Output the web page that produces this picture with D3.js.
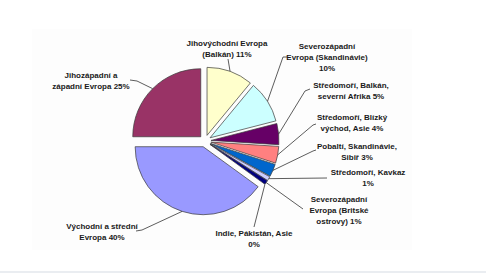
<!DOCTYPE html>
<html><head><meta charset="utf-8">
<script src="https://cdn.jsdelivr.net/npm/d3@7"></script>
<style>html,body{margin:0;padding:0;background:#fff;}svg{display:block;}</style>
</head><body>
<script>
// ---- data ----
const categories = [
  "Východní a střední Evropa",
  "Jihozápadní a západní Evropa",
  "Jihovýchodní Evropa (Balkán)",
  "Severozápadní Evropa (Skandinávie)",
  "Středomoří, Balkán, severní Afrika",
  "Středomoří, Blízký východ, Asie",
  "Pobaltí, Skandinávie, Sibiř",
  "Středomoří, Kavkaz",
  "Severozápadní Evropa (Britské ostrovy)",
  "Indie, Pákistán, Asie"
];
const values = [40, 25, 11, 10, 5, 4, 3, 1, 1, 0];
const colors = ["#9999FF","#993366","#FFFFCC","#CCFFFF","#660066","#FF8080","#0066CC","#CCCCFF","#000080","#FF00FF"];

// ---- layout (label wrapping and positions) ----
const labelLines = [
  ["Východní a střední","Evropa"],
  ["Jihozápadní a","západní Evropa"],
  ["Jihovýchodní Evropa","(Balkán)"],
  ["Severozápadní","Evropa (Skandinávie)",""],
  ["Středomoří, Balkán,","severní Afrika"],
  ["Středomoří, Blízký","východ, Asie"],
  ["Pobaltí, Skandinávie,","Sibiř"],
  ["Středomoří, Kavkaz",""],
  ["Severozápadní","Evropa (Britské","ostrovy)"],
  ["Indie, Pákistán, Asie",""]
];
const labelPos = [[102,226],[91,75],[227,43],[327,46],[351,85],[352,117],[357,146],[368,172],[339,199],[254,233]];
const leaderEnds = [
  [[142,230],[136,231]],
  [[137,81],[130,80]],
  [[228,59]],
  [[283,57],[287,57]],
  [[305,91],[310,89]],
  [[313,125],[316,124]],
  [[313,151],[316,150]],
  [[327,178]],
  [[303,209]],
  [[254,227]]
];

const W = 486, H = 273;
const cx = 205, cy = 141, R = 68, explode = 6;

const svg = d3.select("body").append("svg").attr("width", W).attr("height", H);
svg.append("rect").attr("width", W).attr("height", H).attr("fill", "#ffffff");
svg.append("rect").attr("x", 32).attr("y", 29).attr("width", 380).attr("height", 221).attr("fill", "#fdfdfd");
svg.append("rect").attr("x", 0).attr("y", 271).attr("width", W).attr("height", 2).attr("fill", "#eaedf1");

const toRad = d => d * Math.PI / 180;
const pie = d3.pie().sort(null).value(d => d).startAngle(toRad(126)).endAngle(toRad(486));
const arcs = pie(values);
const arc = d3.arc().innerRadius(0).outerRadius(R);

arcs.forEach((a, i) => {
  const mid = (a.startAngle + a.endAngle) / 2;
  a.ox = cx + explode * Math.sin(mid);
  a.oy = cy - explode * Math.cos(mid);
  a.mid = mid;
  a.i = i;
});

svg.append("g").selectAll("path")
  .data(arcs.filter(a => a.value > 0))
  .join("path")
  .attr("transform", a => `translate(${a.ox},${a.oy})`)
  .attr("d", arc)
  .attr("fill", a => colors[a.i])
  .attr("stroke", "#3a3a3a")
  .attr("stroke-width", 0.7)
  .attr("stroke-linejoin", "round");

// leader lines
const line = d3.line();
svg.append("g").selectAll("path")
  .data(arcs)
  .join("path")
  .attr("d", a => {
    const start = [a.ox + R * Math.sin(a.mid), a.oy - R * Math.cos(a.mid)];
    return line([start, ...leaderEnds[a.i]]);
  })
  .attr("fill", "none")
  .attr("stroke", "#333")
  .attr("stroke-width", 0.8);

// labels
const lg = svg.append("g")
  .attr("font-family", "'Liberation Sans', Arial, sans-serif")
  .attr("font-weight", "bold")
  .attr("font-size", "8px")
  .attr("fill", "#1a1a1a")
  .attr("text-anchor", "middle");

arcs.forEach((a, i) => {
  const lines = labelLines[i].slice();
  const last = lines.length - 1;
  lines[last] = lines[last] === "" ? `${values[i]}%` : `${lines[last]} ${values[i]}%`;
  const t = lg.append("text").attr("x", labelPos[i][0]).attr("y", labelPos[i][1] + 3);
  lines.forEach((s, k) => {
    t.append("tspan").attr("x", labelPos[i][0]).attr("dy", k === 0 ? 0 : 11).text(s);
  });
});
</script>
</body></html>
